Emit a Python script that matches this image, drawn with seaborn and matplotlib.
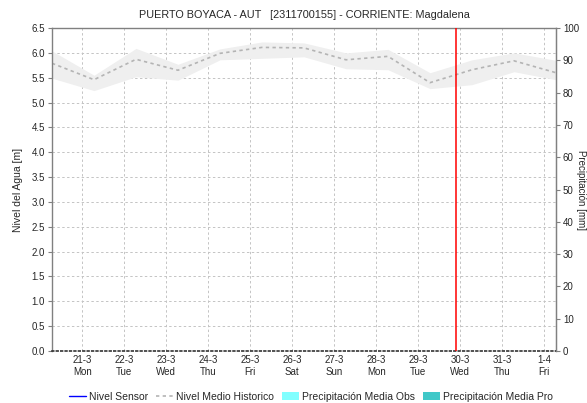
import matplotlib
matplotlib.use("Agg")
import matplotlib.pyplot as plt
from matplotlib.lines import Line2D
from matplotlib.patches import Patch
import numpy as np
import pandas as pd
import seaborn as sns

# days shown on the x axis (index 0 = 21-3)
day_labels = ["21-3", "22-3", "23-3", "24-3", "25-3", "26-3",
              "27-3", "28-3", "29-3", "30-3", "31-3", "1-4"]
weekday_labels = ["Mon", "Tue", "Wed", "Thu", "Fri", "Sat",
                  "Sun", "Mon", "Tue", "Wed", "Thu", "Fri"]

# historic mean level, sampled once a day (day offsets from 21-3)
hist_day = [-0.72, 0.28, 1.28, 2.28, 3.28, 4.28, 5.28,
            6.28, 7.28, 8.28, 9.28, 10.28, 11.28]
hist_mean = [5.79, 5.46, 5.87, 5.65, 5.99, 6.11, 6.10,
             5.86, 5.93, 5.40, 5.66, 5.84, 5.60]
hist_upper = [6.04, 5.55, 6.09, 5.77, 6.08, 6.22, 6.20,
              6.00, 6.07, 5.60, 5.86, 6.00, 5.85]
hist_lower = [5.49, 5.24, 5.52, 5.45, 5.86, 5.89, 5.92,
              5.68, 5.66, 5.28, 5.36, 5.62, 5.46]

# sensor level and precipitation have no data in this period
sensor_day = []
sensor_level = []

now_day = 8.9  # current time marker (30-3)

sns.set_style("white")
plt.rcParams["font.family"] = ["Liberation Sans", "DejaVu Sans"]

fig = plt.figure(figsize=(5.87, 4.03), dpi=100)
ax = fig.add_axes([0.0886, 0.129, 0.8586, 0.8015])

df = pd.DataFrame({"day": hist_day, "mean": hist_mean,
                   "upper": hist_upper, "lower": hist_lower})

ax.fill_between(df["day"], df["lower"], df["upper"], color="#efefef", lw=0, zorder=1)
sns.lineplot(data=df, x="day", y="mean", ax=ax, color="#b4b4b4",
             linestyle=(0, (2, 2)), linewidth=1.2, zorder=2)
if sensor_day:
    ax.plot(sensor_day, sensor_level, color="blue", lw=1)

ax.axvline(now_day, color="red", lw=1.1, zorder=5)

ax.set_xlim(-0.72, 11.28)
ax.set_ylim(0, 6.5)
ax.set_xticks(range(len(day_labels)))
ax.set_xticklabels([f"{d}\n{w}" for d, w in zip(day_labels, weekday_labels)], fontsize=7)
ax.set_yticks(np.arange(0, 6.51, 0.5))
ax.set_yticklabels([f"{v:.1f}" for v in np.arange(0, 6.51, 0.5)], fontsize=7)
ax.grid(True, color="#c4c4c4", linestyle=(0, (2.5, 2.5)), linewidth=0.7)
ax.set_axisbelow(True)
ax.set_xlabel("")
ax.set_ylabel("Nivel del Agua [m]", fontsize=7.5, labelpad=6)
ax.tick_params(axis="y", length=3, width=0.8, color="#808080", pad=2, left=True)
ax.tick_params(axis="x", length=0, pad=3)

for side in ["left", "top", "right"]:
    ax.spines[side].set_color("#808080")
    ax.spines[side].set_linewidth(1)
ax.spines["bottom"].set_color("#333333")
ax.spines["bottom"].set_linestyle(":")
ax.spines["bottom"].set_linewidth(1.2)

ax2 = ax.twinx()
ax2.set_ylim(0, 100)
ax2.set_yticks(range(0, 101, 10))
ax2.set_yticklabels([str(v) for v in range(0, 101, 10)], fontsize=7)
ax2.tick_params(axis="y", length=3, width=0.8, color="#808080", pad=2, right=True)
ax2.set_ylabel("Precipitación [mm]", fontsize=7, rotation=270, va="center", ha="center")
ax2.yaxis.set_label_coords(1.0495, 0.5)
for s in ax2.spines.values():
    s.set_visible(False)
ax2.spines["right"].set_visible(True)
ax2.spines["right"].set_color("#808080")

ax.set_title("PUERTO BOYACA - AUT   [2311700155] - CORRIENTE: Magdalena",
             fontsize=7.8, pad=7)

handles = [
    Line2D([], [], color="blue", lw=1),
    Line2D([], [], color="#b4b4b4", lw=1.2, linestyle=(0, (2, 2))),
    Patch(facecolor="#80ffff", edgecolor="none"),
    Patch(facecolor="#40c8c8", edgecolor="none"),
]
labels = ["Nivel Sensor", "Nivel Medio Historico",
          "Precipitación Media Obs", "Precipitación Media Pro"]
fig.legend(handles, labels, loc="lower center", bbox_to_anchor=(0.53, -0.02),
           ncol=4, frameon=False, fontsize=7.5, handlelength=1.6,
           handletextpad=0.3, columnspacing=0.8, handleheight=0.9)

fig.savefig("out.png", dpi=100)
